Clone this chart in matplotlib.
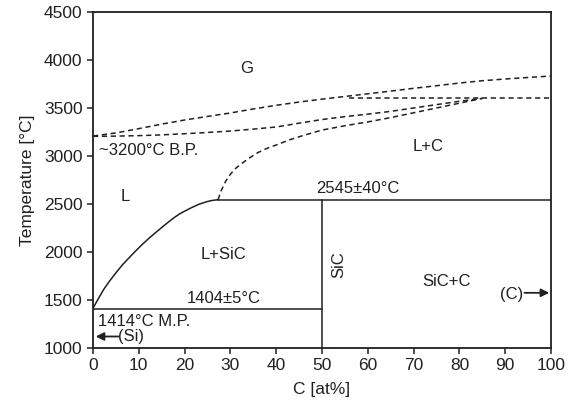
import numpy as np
import matplotlib
matplotlib.use("Agg")
import matplotlib.pyplot as plt

plt.rcParams['font.family'] = ['Liberation Sans', 'DejaVu Sans']
INK = '#231f20'

# liquidus on the Si side (solid)
liq_si_c = [0, 1, 2.25, 3.5, 5.2, 6.5, 8.1, 9.5, 11, 12.5, 13.9, 15.5, 17.5, 19, 21.2, 23, 24.8, 26, 27.3]
liq_si_t = [1414, 1500, 1604, 1690, 1795, 1870, 1951, 2020, 2090, 2155, 2211, 2275, 2351, 2400,
            2455, 2495, 2524, 2537, 2545]

# liquidus above the peritectic (dashed)
liq_c_c = [27.3, 28, 29, 30, 31, 32, 34, 36, 38, 40, 43, 46, 50, 55, 60, 65, 70, 75, 80, 85]
liq_c_t = [2545, 2640, 2740, 2810, 2865, 2905, 2975, 3035, 3080, 3115, 3170, 3215, 3270, 3315,
           3355, 3400, 3450, 3500, 3550, 3600]

# gas boundaries (dashed)
gas_up_c = [0, 5, 10, 15, 20, 25, 30, 35, 40, 45, 50, 55, 60, 65, 70, 75, 80, 85, 90, 95, 100]
gas_up_t = [3208, 3240, 3285, 3332, 3375, 3412, 3448, 3490, 3528, 3562, 3592, 3620, 3648, 3676,
            3705, 3732, 3760, 3784, 3802, 3818, 3833]

gas_lo_c = [0, 5, 10, 15, 20, 25, 30, 35, 40, 45, 50, 55, 60, 65, 70, 75, 80, 85]
gas_lo_t = [3205, 3207, 3212, 3220, 3232, 3245, 3260, 3280, 3302, 3342, 3380, 3410, 3436, 3465,
            3500, 3535, 3570, 3600]

gas_flat_c = [56, 100]
gas_flat_t = [3605, 3605]

# invariant lines
peritectic_t = 2545
eutectic_t = 1404
sic_c = 50

fig = plt.figure(figsize=(5.86, 4.09), dpi=100)
ax = fig.add_axes([0.1587, 0.1491, 0.7816, 0.8216])

lw = 1.1
dash = (0, (3.4, 2.4))
ax.plot(liq_si_c, liq_si_t, color=INK, lw=lw)
ax.plot([liq_si_c[-1], 100], [peritectic_t, peritectic_t], color=INK, lw=lw)
ax.plot([sic_c, sic_c], [1000, peritectic_t], color=INK, lw=lw)
ax.plot([0, sic_c], [eutectic_t, eutectic_t], color=INK, lw=lw)

ax.plot(liq_c_c, liq_c_t, color=INK, lw=lw, ls=dash)
ax.plot(gas_up_c, gas_up_t, color=INK, lw=lw, ls=dash)
ax.plot(gas_lo_c, gas_lo_t, color=INK, lw=lw, ls=dash)
ax.plot(gas_flat_c, gas_flat_t, color=INK, lw=lw, ls=dash)

fs = 12
ax.text(33.5, 3910, 'G', fontsize=fs, ha='center', va='center', color=INK)
ax.text(1.3, 3062, '~3200°C B.P.', fontsize=fs, ha='left', va='center', color=INK)
ax.text(7, 2580, 'L', fontsize=fs, ha='center', va='center', color=INK)
ax.text(73.2, 3097, 'L+C', fontsize=fs, ha='center', va='center', color=INK)
ax.text(57.9, 2663, '2545±40°C', fontsize=fs, ha='center', va='center', color=INK)
ax.text(28.5, 1979, 'L+SiC', fontsize=fs, ha='center', va='center', color=INK)
ax.text(53.6, 1865, 'SiC', fontsize=fs, ha='center', va='center', rotation=90, color=INK)
ax.text(77.2, 1690, 'SiC+C', fontsize=fs, ha='center', va='center', color=INK)
ax.text(28.6, 1517, '1404±5°C', fontsize=fs, ha='center', va='center', color=INK)
ax.text(1.0, 1274, '1414°C M.P.', fontsize=fs, ha='left', va='center', color=INK)
ax.text(91.4, 1555, '(C)', fontsize=fs, ha='center', va='center', color=INK)
ax.text(8.3, 1125, '(Si)', fontsize=fs, ha='center', va='center', color=INK)

ax.annotate('', xy=(99.6, 1575), xytext=(94.2, 1575),
            arrowprops=dict(arrowstyle='-|>', color=INK, lw=1.3, mutation_scale=12,
                            shrinkA=0, shrinkB=0))
ax.annotate('', xy=(0.6, 1120), xytext=(5.6, 1120),
            arrowprops=dict(arrowstyle='-|>', color=INK, lw=1.3, mutation_scale=12,
                            shrinkA=0, shrinkB=0))

ax.set_xlim(0, 100)
ax.set_ylim(1000, 4500)
ax.set_xticks(np.arange(0, 101, 10))
ax.set_yticks(np.arange(1000, 4501, 500))
ax.tick_params(direction='out', length=4, width=1.1, labelsize=12.5, colors=INK)
for s in ax.spines.values():
    s.set_linewidth(1.3)
    s.set_color(INK)
ax.set_xlabel('C [at%]', fontsize=12.5, color=INK, labelpad=6)
ax.set_ylabel('Temperature [°C]', fontsize=12.5, color=INK, labelpad=6)

fig.savefig('out.png', dpi=100)
